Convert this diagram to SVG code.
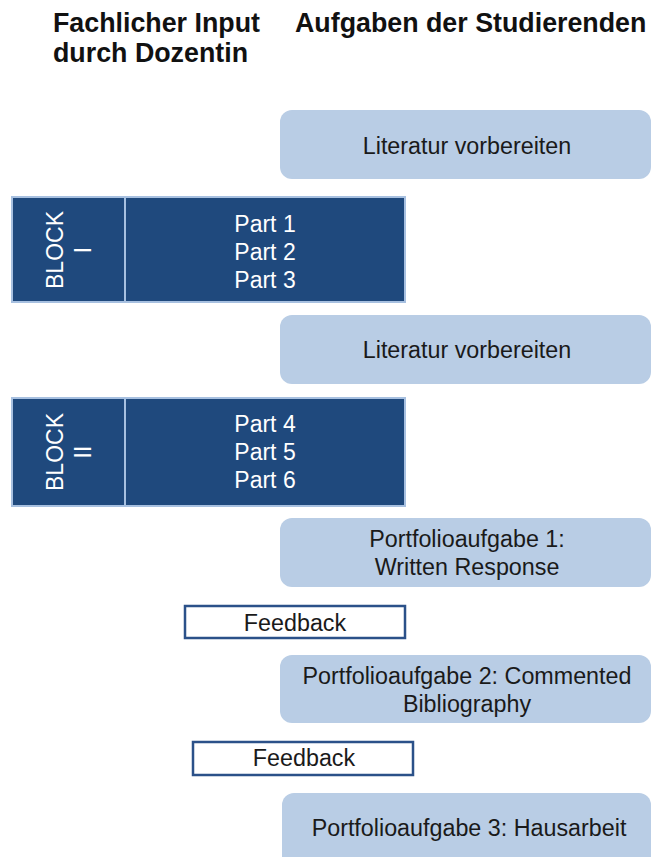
<svg xmlns="http://www.w3.org/2000/svg" width="652" height="857" viewBox="0 0 652 857">
<style>
text{font-family:"Liberation Sans",Arial,sans-serif;}
.hd{font-size:26.8px;font-weight:bold;fill:#111;}
.t{font-size:23.3px;fill:#1a1a1a;text-anchor:middle;}
.w{font-size:23px;fill:#fff;text-anchor:middle;}
.task{fill:#B9CDE5;}
.blk{fill:#1F497D;stroke:#A7C0E0;stroke-width:2;}
.fb{fill:#fff;stroke:#2B5189;stroke-width:2.5;}
</style>
<rect width="652" height="857" fill="#fff"/>
<g id="headers">
<text class="hd" x="53" y="32">Fachlicher Input</text>
<text class="hd" x="53" y="62">durch Dozentin</text>
<text class="hd" x="295" y="32">Aufgaben der Studierenden</text>
</g>
<g id="connectors"></g>
<g id="task1">
<rect class="task" x="280" y="110" width="371" height="69" rx="12"/>
<text class="t" x="467" y="154">Literatur vorbereiten</text>
</g>
<g id="block1">
<rect class="blk" x="12" y="197" width="393" height="105"/>
<line x1="125" y1="197" x2="125" y2="302" stroke="#A7C0E0" stroke-width="2"/>
<text class="w" transform="translate(68.5,250) rotate(-90)"><tspan x="0" y="-6">BLOCK</tspan><tspan x="0" y="22">I</tspan></text>
<text class="w" x="265" y="232">Part 1</text>
<text class="w" x="265" y="260">Part 2</text>
<text class="w" x="265" y="288">Part 3</text>
</g>
<g id="task2">
<rect class="task" x="280" y="315" width="371" height="69" rx="12"/>
<text class="t" x="467" y="358">Literatur vorbereiten</text>
</g>
<g id="block2">
<rect class="blk" x="12" y="398" width="393" height="108"/>
<line x1="125" y1="398" x2="125" y2="506" stroke="#A7C0E0" stroke-width="2"/>
<text class="w" transform="translate(68.5,452) rotate(-90)"><tspan x="0" y="-6">BLOCK</tspan><tspan x="0" y="22">II</tspan></text>
<text class="w" x="265" y="432">Part 4</text>
<text class="w" x="265" y="460">Part 5</text>
<text class="w" x="265" y="488">Part 6</text>
</g>
<g id="portfolio1">
<rect class="task" x="280" y="518" width="371" height="69" rx="12"/>
<text class="t" x="467" y="547">Portfolioaufgabe 1:</text>
<text class="t" x="467" y="575">Written Response</text>
</g>
<g id="feedback1">
<rect class="fb" x="185" y="606" width="220" height="32"/>
<text class="t" x="295" y="631">Feedback</text>
</g>
<g id="portfolio2">
<rect class="task" x="280" y="655" width="371" height="68" rx="12"/>
<text class="t" x="467" y="684">Portfolioaufgabe 2: Commented</text>
<text class="t" x="467" y="712">Bibliography</text>
</g>
<g id="feedback2">
<rect class="fb" x="193" y="742" width="220" height="33"/>
<text class="t" x="304" y="766">Feedback</text>
</g>
<g id="portfolio3">
<rect class="task" x="282" y="793" width="369" height="80" rx="12"/>
<text class="t" x="469" y="836">Portfolioaufgabe 3: Hausarbeit</text>
</g>
</svg>
